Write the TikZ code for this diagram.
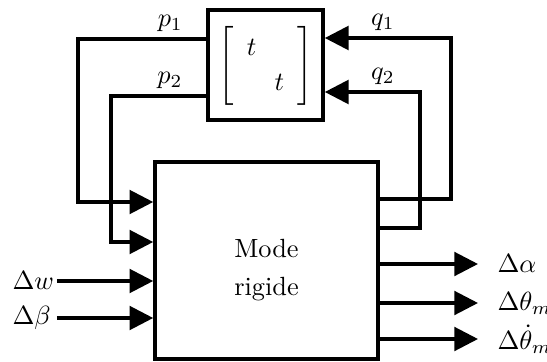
\documentclass[tikz,border=0pt]{standalone}
\usepackage{amsmath,amssymb}
\usepackage{tikz}
\usetikzlibrary{arrows.meta,positioning,calc}

\tikzset{
  blockbox/.style={draw, line width=1.4pt, inner sep=0pt},
  sigline/.style={line width=1.2pt},
  sigarrow/.style={sigline, -{Triangle[length=9pt,width=9pt]}},
  siglabel/.style={above, inner sep=2.2pt},
}

\begin{document}
\begin{tikzpicture}[x=0.38pt,y=-0.38pt]
  \useasboundingbox (0,0) rectangle (547,362);
  % Blocks
  \node[blockbox, minimum width=43.7pt, minimum height=41.8pt] (delta) at (265.5,65)
    {$\renewcommand{\arraystretch}{1.1}\left[\rule[-13pt]{0pt}{32pt}
      \begin{array}{@{\hspace{5pt}}c@{\hspace{7pt}}c@{\hspace{5pt}}} t & \\ & t \end{array}\right]$};
  \node[blockbox, minimum width=84.7pt, minimum height=74.9pt] (rigid) at (266.5,260.5) {};
  \node[align=center] (rigidtxt) at (266.5,270) {Mode\\[2.5pt]rigide};

  % Routing corners
  \coordinate (p1up) at (78,39);
  \coordinate (p1dn) at (78,202);
  \coordinate (p2up) at (111,96);
  \coordinate (p2dn) at (111,242);
  \coordinate (q1up) at (451,38);
  \coordinate (q1dn) at (451,199);
  \coordinate (q2up) at (420,92);
  \coordinate (q2dn) at (420,228);

  % Feedback loop
  \draw[sigarrow] (delta.west |- p1up) -- node[pos=0.28, siglabel] {$p_1$} (p1up) -- (p1dn) -- (rigid.west |- p1dn);
  \draw[sigarrow] (delta.west |- p2up) -- node[pos=0.38, siglabel] {$p_2$} (p2up) -- (p2dn) -- (rigid.west |- p2dn);
  \draw[sigarrow] (rigid.east |- q1dn) -- (q1dn) -- (q1up) -- node[pos=0.54, siglabel] {$q_1$} (delta.east |- q1up);
  \draw[sigarrow] (rigid.east |- q2dn) -- (q2dn) -- (q2up) -- node[pos=0.39, siglabel] {$q_2$} (delta.east |- q2up);

  % Inputs
  \coordinate (dwin) at (57,281);
  \coordinate (dbin) at (57,318);
  \node[anchor=west, inner sep=0pt] (dw) at (12,281) {$\Delta w$};
  \node[anchor=west, inner sep=0pt] (db) at (12,318) {$\Delta\beta$};
  \draw[sigarrow] (dwin) -- (rigid.west |- dwin);
  \draw[sigarrow] (dbin) -- (rigid.west |- dbin);

  % Outputs
  \coordinate (daout) at (478,264);
  \coordinate (dtout) at (478,303);
  \coordinate (ddout) at (478,339);
  \draw[sigarrow] (rigid.east |- daout) -- (daout);
  \draw[sigarrow] (rigid.east |- dtout) -- (dtout);
  \draw[sigarrow] (rigid.east |- ddout) -- (ddout);
  \node[anchor=west, inner sep=0pt] (da) at (497,264) {$\Delta\alpha$};
  \node[anchor=west, inner sep=0pt] (dt) at (497,303) {$\Delta\theta_m$};
  \node[anchor=west, inner sep=0pt] (dd) at (497,339) {$\Delta\dot{\theta}_m$};
\end{tikzpicture}
\end{document}
